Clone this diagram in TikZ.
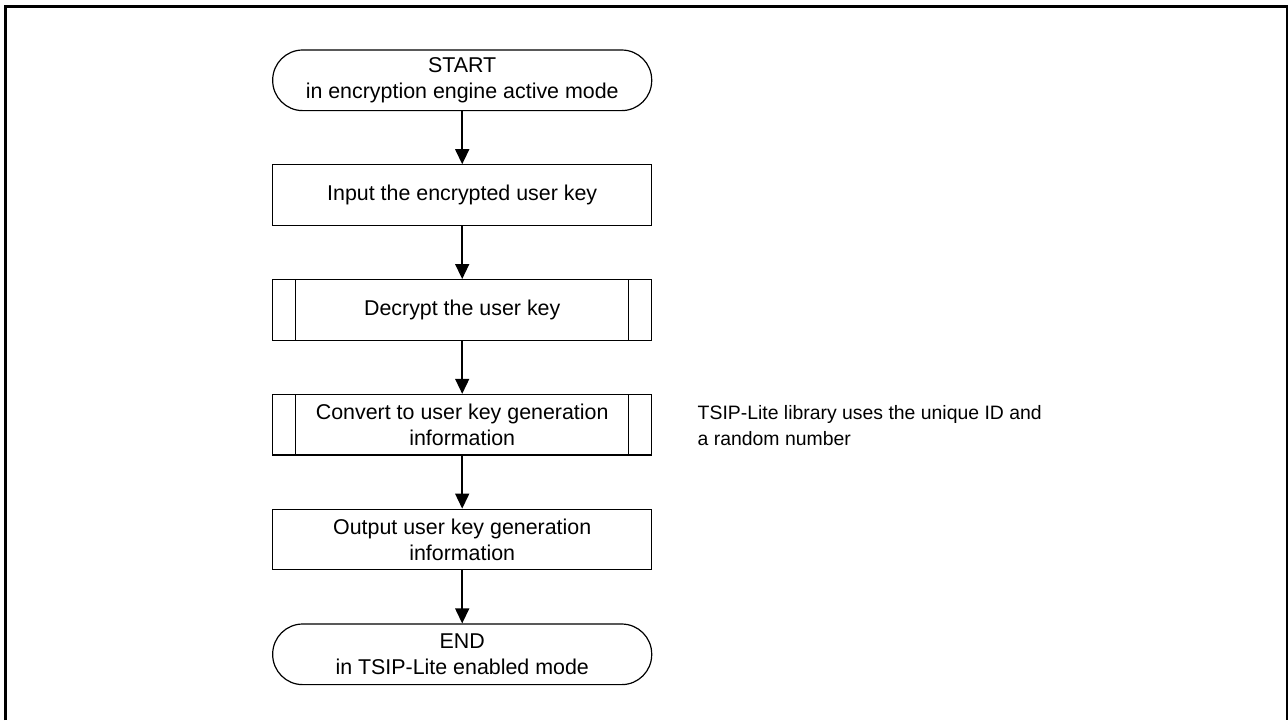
\documentclass[tikz,border=0pt]{standalone}
\usepackage{fontspec}
\setmainfont{Liberation Sans}
\usepackage{xcolor}
\usepackage{tikz}
\usetikzlibrary{positioning,arrows.meta}
\definecolor{fcInk}{HTML}{000000}
\definecolor{fcWhite}{HTML}{FFFFFF}
\tikzset{
  fc-box/.style={
    draw=fcInk, line width=0.6pt, fill=fcWhite,
    font=\fontsize{10.7}{12.9}\selectfont, align=center,
    inner sep=2pt, minimum width=189.5pt, minimum height=30.3pt
  },
  fc-term/.style={fc-box, rounded corners=15pt},
  fc-sub/.style={fc-box,
    path picture={
      \draw[line width=0.6pt]
        ([xshift=11.5pt]path picture bounding box.north west) --
        ([xshift=11.5pt]path picture bounding box.south west);
      \draw[line width=0.6pt]
        ([xshift=-11.5pt]path picture bounding box.north east) --
        ([xshift=-11.5pt]path picture bounding box.south east);
    }
  },
  fc-flow/.style={-{Triangle[width=7pt,length=7.5pt]}, line width=0.75pt, draw=fcInk},
  fc-note/.style={font=\fontsize{9.7}{13.3}\selectfont, align=left, inner sep=0pt}
}
\begin{document}
\begin{tikzpicture}[
  x=0.5pt, y=-0.5pt,
  node distance=26.5pt and 22.5pt
]
\useasboundingbox (0,0) rectangle (1288,720);
\draw[line width=1.5pt, draw=fcInk] (5.5,720) |- (1287.5,6.5) -- (1287.5,720);

\node[fc-term] (start) at (462.2,80.3) {START\\ in encryption engine active mode};
\node[fc-box, below=of start] (input) {Input the encrypted user key};
\node[fc-sub, below=of input] (decrypt) {Decrypt the user key};
\node[fc-sub, below=of decrypt] (convert) {Convert to user key generation\\ information};
\node[fc-box, below=of convert] (output) {Output user key generation\\ information};
\node[fc-term, below=of output] (end) {END\\ in TSIP-Lite enabled mode};
\node[fc-note, right=of convert, anchor=west, yshift=-0.5pt] (note)
  {TSIP-Lite library uses the unique ID and\\ a random number};

\draw[fc-flow] (start) -- (input);
\draw[fc-flow] (input) -- (decrypt);
\draw[fc-flow] (decrypt) -- (convert);
\draw[fc-flow] (convert) -- (output);
\draw[fc-flow] (output) -- (end);
\end{tikzpicture}
\end{document}
